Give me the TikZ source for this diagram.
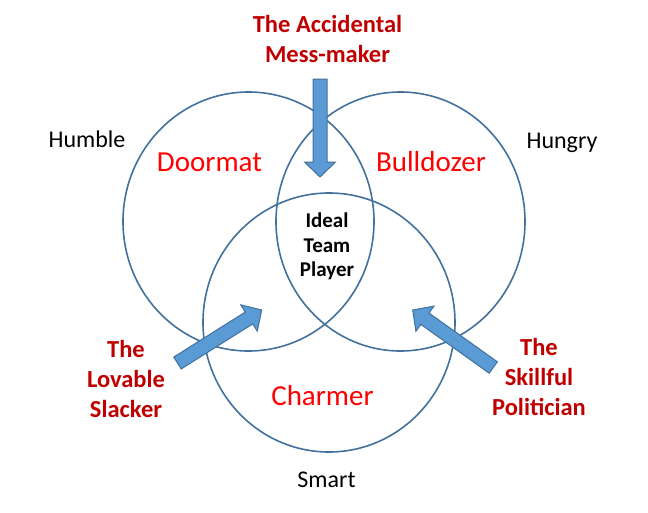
\documentclass[tikz,border=0pt]{standalone}
\usepackage{fontspec}
\setmainfont{Carlito}
\definecolor{ringblue}{HTML}{41719C}
\definecolor{arrowfill}{HTML}{5B9BD5}
\definecolor{darkred}{HTML}{C00000}
\definecolor{brightred}{HTML}{FF0000}
\tikzset{
  ring/.style={draw=ringblue, line width=1.6pt},
  blockarrow/.style={draw=ringblue, fill=arrowfill, line width=1pt, line join=miter},
  typelabel/.style={font=\bfseries\fontsize{24.5}{30}\selectfont, text=darkred, anchor=base, inner sep=0pt},
  zonelabel/.style={font=\fontsize{29}{35}\selectfont, text=brightred, anchor=base, inner sep=0pt},
  traitlabel/.style={font=\fontsize{24}{29}\selectfont, text=black, anchor=base, inner sep=0pt},
  idealabel/.style={font=\bfseries\fontsize{21}{25}\selectfont, text=black, anchor=base, inner sep=0pt},
}
\begin{document}
\begin{tikzpicture}[x=1pt, y=-1pt]
\useasboundingbox (0,0) rectangle (648,512);
% circles
\draw[ring] (248.5,221.5) ellipse [x radius=125.5, y radius=129.5];
\draw[ring] (400.5,221.5) ellipse [x radius=124.5, y radius=129.5];
\draw[ring] (329,322.5) ellipse [x radius=126, y radius=129.5];
% block arrows (local: along +x, length L, head 15, shaft half 7, head half 15.5)
\draw[blockarrow, shift={(320,79)}, rotate=-90]
  (0,-7) -- (83,-7) -- (83,-15.5) -- (98,0) -- (83,15.5) -- (83,7) -- (0,7) -- cycle;
\draw[blockarrow, shift={(177.5,363)}, rotate=32.2]
  (0,-7) -- (84.5,-7) -- (84.5,-15.5) -- (99.5,0) -- (84.5,15.5) -- (84.5,7) -- (0,7) -- cycle;
\draw[blockarrow, shift={(493.3,367.5)}, rotate=144.5]
  (0,-7) -- (84,-7) -- (84,-15.5) -- (99,0) -- (84,15.5) -- (84,7) -- (0,7) -- cycle;
% type labels
\node[typelabel] (acc1) at (327.5,32) {The Accidental};
\node[typelabel] (acc2) at (327.5,62) {Mess-maker};
\node[typelabel] (lov1) at (126,357) {The};
\node[typelabel] (lov2) at (126,387) {Lovable};
\node[typelabel] (lov3) at (126,417) {Slacker};
\node[typelabel] (ski1) at (539,355) {The};
\node[typelabel] (ski2) at (539,385) {Skillful};
\node[typelabel] (ski3) at (539,415) {Politician};
% zone labels
\node[zonelabel] (doormat) at (209.5,171) {Doormat};
\node[zonelabel] (bulldozer) at (431,171) {Bulldozer};
\node[zonelabel] (charmer) at (322.5,405) {Charmer};
% traits
\node[traitlabel] (humble) at (87,147) {Humble};
\node[traitlabel] (hungry) at (562,148) {Hungry};
\node[traitlabel] (smart) at (326.5,487) {Smart};
% ideal
\node[idealabel] (ideal1) at (327,227) {Ideal};
\node[idealabel] (ideal2) at (327,252) {Team};
\node[idealabel] (ideal3) at (327,276) {Player};
\end{tikzpicture}
\end{document}
